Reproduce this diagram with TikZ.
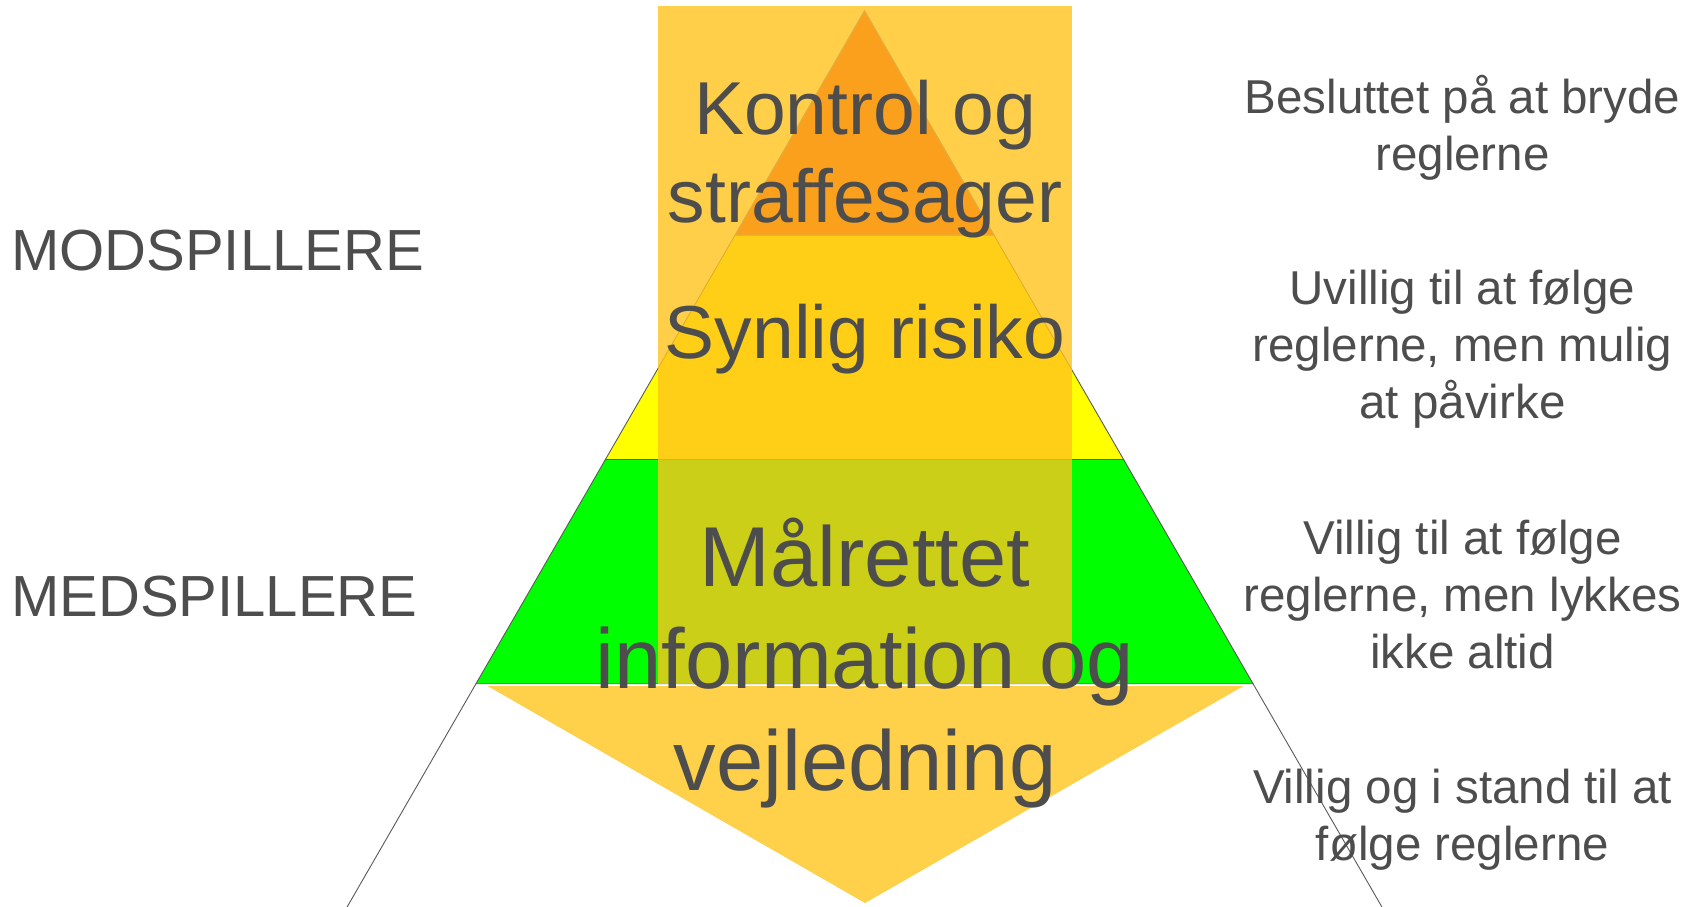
\documentclass[tikz,border=0pt]{standalone}
\usepackage{fontspec}
\setmainfont{Liberation Sans}
\definecolor{txt}{RGB}{77,77,77}
\definecolor{orng}{RGB}{250,160,28}
\definecolor{yel}{RGB}{255,255,0}
\definecolor{grn}{RGB}{0,255,0}
\definecolor{gold}{RGB}{255,196,29}
\definecolor{lightgold}{RGB}{255,208,74}
\definecolor{edge}{RGB}{90,90,90}
\definecolor{tan}{RGB}{225,175,70}
\tikzset{
  layer/.style={draw=edge, line width=0.9pt, line join=miter},
  bigtxt/.style={text=txt, inner sep=0pt, anchor=base, align=center, font=\fontsize{75}{88}\selectfont},
  hugetxt/.style={text=txt, inner sep=0pt, anchor=base, align=center, font=\fontsize{85}{102}\selectfont},
  sidetxt/.style={text=txt, inner sep=0pt, anchor=base west, font=\fontsize{58}{70}\selectfont},
  righttxt/.style={text=txt, inner sep=0pt, anchor=base, align=center, font=\fontsize{47.5}{56.7}\selectfont}
}
\begin{document}
\begin{tikzpicture}[x=1pt,y=-1pt]
\useasboundingbox[fill=white] (0,0) rectangle (1696,906);
% pyramid corners
\coordinate (A) at (864.5,10.8);
\coordinate (L1) at (735.1,235);   \coordinate (R1) at (993.9,235);
\coordinate (L2) at (605.4,459.5); \coordinate (R2) at (1123.6,459.5);
\coordinate (L3) at (476.0,683.7); \coordinate (R3) at (1253.0,683.7);
\coordinate (L4) at (346.5,908);   \coordinate (R4) at (1382.5,908);
% layers
\fill[white] (L3) -- (R3) -- (R4) -- (L4) -- cycle;
\draw[edge, line width=0.9pt] (L3) -- (L4) (R3) -- (R4);
\filldraw[layer, fill=grn] (L2) -- (R2) -- (R3) -- (L3) -- cycle;
\filldraw[layer, fill=yel] (L1) -- (R1) -- (R2) -- (L2) -- cycle;
\filldraw[layer, fill=orng] (A) -- (R1) -- (L1) -- cycle;
% translucent column
\fill[gold, fill opacity=0.8] (658,6) rectangle (1071.5,683.7);
% top triangle over the column
\filldraw[draw=tan, line width=0.8pt, fill=orng] (A) -- (R1) -- (L1) -- cycle;
% downward triangle
\coordinate (D1) at (487.6,686);
\coordinate (D2) at (1243.5,686);
\coordinate (D3) at (865,903);
\fill[lightgold] (D1) -- (D2) -- (D3) -- cycle;
% texts (base anchor of multi-line nodes = last line)
\node[bigtxt] (kontrol) at (865,222.7) {Kontrol og\\straffesager};
\node[bigtxt] (synlig) at (865,358) {Synlig risiko};
\node[hugetxt] (maal) at (865,790.7) {Målrettet\\information og\\vejledning};
\node[sidetxt] (mod) at (11,270) {MODSPILLERE};
\node[sidetxt] (med) at (11,616.7) {MEDSPILLERE};
\node[righttxt] (r1) at (1462.5,170) {Besluttet på at bryde\\reglerne};
\node[righttxt] (r2) at (1462.5,418) {Uvillig til at følge\\reglerne, men mulig\\at påvirke};
\node[righttxt] (r3) at (1462.5,668) {Villig til at følge\\reglerne, men lykkes\\ikke altid};
\node[righttxt] (r4) at (1462.5,860) {Villig og i stand til at\\følge reglerne};
\end{tikzpicture}
\end{document}
